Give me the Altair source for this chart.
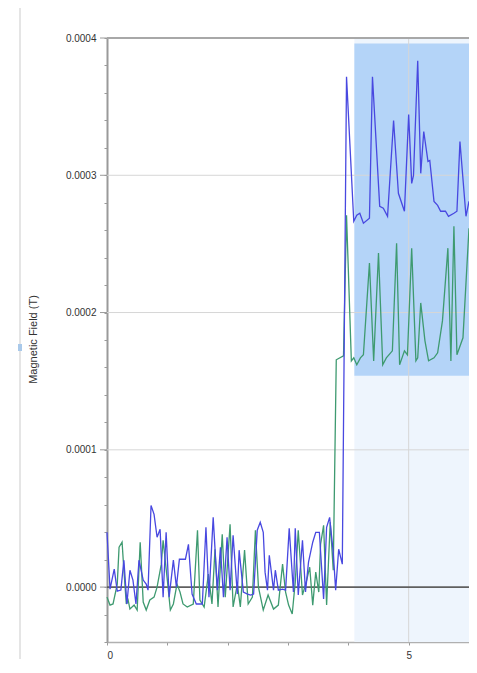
import altair as alt
import pandas as pd

# ---- data ----
blue_t = [0.00, 0.05, 0.12, 0.17, 0.23, 0.28, 0.33, 0.38, 0.43, 0.48, 0.53, 0.60, 0.65, 0.68,
          0.73, 0.78, 0.83, 0.88, 0.93, 0.98, 1.03, 1.10, 1.15, 1.20, 1.30, 1.35, 1.41, 1.48,
          1.58, 1.64, 1.69, 1.76, 1.83, 1.88, 1.93, 1.99, 2.04, 2.09, 2.16, 2.19, 2.26, 2.33,
          2.38, 2.43, 2.49, 2.54, 2.59, 2.62, 2.66, 2.69, 2.76, 2.79, 2.84, 2.91, 2.96, 3.02,
          3.09, 3.12, 3.17, 3.24, 3.29, 3.34, 3.41, 3.46, 3.52, 3.59, 3.64, 3.69, 3.75, 3.79,
          3.84, 3.90, 3.97, 4.09, 4.14, 4.19, 4.25, 4.35, 4.40, 4.52, 4.58, 4.65, 4.75, 4.83,
          4.93, 5.00, 5.05, 5.08, 5.15, 5.20, 5.25, 5.32, 5.35, 5.42, 5.48, 5.53, 5.61, 5.66,
          5.75, 5.80, 5.85, 5.95, 6.00]
blue_b = [0.0000399, -0.0000015, 0.0000131, -0.0000029, -0.0000022, 0.0000196, -0.0000123,
          0.0000123, 0.0000051, -0.0000123, 0.0000196, 0.0000051, 0.0000022, -0.0000022,
          0.0000595, 0.0000530, 0.0000363, 0.0000421, -0.0000073, 0.0000399, -0.0000073,
          0.0000196, 0.0000000, 0.0000203, 0.0000203, 0.0000312, -0.0000051, -0.0000123,
          -0.0000123, 0.0000436, -0.0000073, 0.0000508, -0.0000022, 0.0000290, -0.0000073,
          0.0000363, -0.0000022, 0.0000378, -0.0000051, 0.0000269, -0.0000036, -0.0000051,
          -0.0000058, -0.0000051, 0.0000414, 0.0000472, 0.0000399, 0.0000109, -0.0000022,
          0.0000232, -0.0000022, 0.0000123, -0.0000022, -0.0000015, -0.0000022, 0.0000428,
          -0.0000036, 0.0000428, -0.0000058, 0.0000341, -0.0000036, 0.0000182, 0.0000327,
          0.0000399, 0.0000399, -0.0000087, 0.0000436, 0.0000508, 0.0000254, -0.0000022,
          0.0000276, 0.0000167, 0.0003718, 0.0002665, 0.0002709, 0.0002723, 0.0002651,
          0.0002687, 0.0003718, 0.0002774, 0.0002760, 0.0002701, 0.0003399, 0.0002869,
          0.0002738, 0.0003442, 0.0002941, 0.0002999, 0.0003834, 0.0003014, 0.0003319,
          0.0003101, 0.0003108, 0.0002810, 0.0002781, 0.0002738, 0.0002738, 0.0002701,
          0.0002723, 0.0002738, 0.0003246, 0.0002701, 0.0002810]

green_t = [0.00, 0.05, 0.10, 0.17, 0.20, 0.25, 0.28, 0.32, 0.35, 0.38, 0.45, 0.50, 0.55, 0.60,
           0.65, 0.71, 0.78, 0.83, 0.90, 0.93, 1.00, 1.05, 1.10, 1.16, 1.21, 1.26, 1.33, 1.43,
           1.50, 1.54, 1.61, 1.68, 1.74, 1.79, 1.84, 1.91, 1.96, 2.04, 2.09, 2.16, 2.21, 2.28,
           2.34, 2.41, 2.46, 2.51, 2.59, 2.67, 2.76, 2.84, 2.91, 2.96, 3.01, 3.07, 3.12, 3.17,
           3.24, 3.31, 3.36, 3.41, 3.46, 3.51, 3.54, 3.59, 3.64, 3.70, 3.75, 3.80, 3.92, 3.97,
           4.05, 4.09, 4.14, 4.20, 4.25, 4.35, 4.42, 4.50, 4.57, 4.63, 4.73, 4.80, 4.85, 4.93,
           4.98, 5.05, 5.12, 5.15, 5.20, 5.27, 5.33, 5.42, 5.48, 5.56, 5.65, 5.70, 5.75, 5.80,
           5.90, 6.00]
green_b = [-0.0000073, -0.0000131, -0.0000123, 0.0000022, 0.0000290, 0.0000327, 0.0000123,
           -0.0000123, -0.0000094, -0.0000160, -0.0000131, -0.0000167, 0.0000327, -0.0000109,
           -0.0000167, -0.0000094, -0.0000073, 0.0000000, 0.0000167, 0.0000341, 0.0000051,
           -0.0000167, -0.0000123, 0.0000022, -0.0000036, -0.0000123, -0.0000145, -0.0000123,
           0.0000414, -0.0000094, -0.0000145, 0.0000094, -0.0000123, 0.0000276, -0.0000145,
           0.0000385, -0.0000073, 0.0000458, -0.0000145, 0.0000022, -0.0000145, 0.0000269,
           -0.0000123, -0.0000073, 0.0000414, 0.0000000, -0.0000167, -0.0000058, -0.0000160,
           -0.0000131, 0.0000167, -0.0000036, -0.0000131, -0.0000196, 0.0000036, 0.0000414,
           -0.0000058, 0.0000051, 0.0000145, -0.0000131, 0.0000109, -0.0000036, 0.0000312,
           0.0000450, -0.0000131, 0.0000472, 0.0000123, 0.0001656, 0.0001685, 0.0002709,
           0.0001648, 0.0001670, 0.0001619, 0.0001670, 0.0001692, 0.0002360, 0.0001648,
           0.0002433, 0.0001619, 0.0001670, 0.0001721, 0.0002505, 0.0001619, 0.0001721,
           0.0001692, 0.0002469, 0.0001648, 0.0001670, 0.0002070, 0.0001794, 0.0001648,
           0.0001670, 0.0001707, 0.0001939, 0.0002469, 0.0001648, 0.0002629, 0.0001692,
           0.0001816, 0.0002614]

y_labels = [0.0, 0.0001, 0.0002, 0.0003, 0.0004]
y_ticks = [-0.00004, -0.00002, 0.0, 0.00002, 0.00004, 0.00006, 0.00008, 0.0001, 0.00012,
           0.00014, 0.00016, 0.00018, 0.0002, 0.00022, 0.00024, 0.00026, 0.00028, 0.0003,
           0.00032, 0.00034, 0.00036, 0.00038, 0.0004]
x_ticks = [0, 1, 2, 3, 4, 5, 6]
x_grid = [5]

sel_t = [4.10, 6.00]          # selected time range
sel_b = [0.000154, 0.000396]  # selected field range
y_dom = [-0.00004, 0.0004]
x_dom = [0, 6]

FONT = "Liberation Sans"

blue_df = pd.DataFrame({"t": blue_t, "b": blue_b})
green_df = pd.DataFrame({"t": green_t, "b": green_b})

xs = alt.Scale(domain=x_dom, nice=False, zero=False)
ys = alt.Scale(domain=y_dom, nice=False, zero=False)

W, H = 362, 604

X_AXIS = alt.Axis(
    values=x_ticks, title=None, grid=False,
    labelExpr="datum.value == 0 || datum.value == 5 ? datum.label : ''",
    tickSize=3, tickColor="#9a9a9a", domainColor="#b0b0b0", domainWidth=1.5,
    labelFont=FONT, labelFontSize=10, labelColor="#333333", labelPadding=5)
Y_AXIS = alt.Axis(
    values=y_ticks, grid=False, title="Magnetic Field (T)",
    labelExpr="(datum.value >= 0 && abs(datum.value*10000 - round(datum.value*10000)) < 0.01) ? format(datum.value, '.4f') : ''",
    tickSize=3, tickColor="#9a9a9a", domainColor="#9a9a9a", domainWidth=2,
    labelFont=FONT, labelFontSize=10, labelColor="#333333", labelPadding=8,
    titleFont=FONT, titleFontSize=11, titleFontWeight="normal", titleColor="#333333",
    titleX=-74, titleY=301, titleAngle=-90, titleAlign="center", titleBaseline="middle")


def X(field="t"):
    return alt.X(f"{field}:Q", scale=xs, axis=X_AXIS, title=None)


def Y(field="b"):
    return alt.Y(f"{field}:Q", scale=ys, axis=Y_AXIS, title="Magnetic Field (T)")


# light selection band (full height)
band_df = pd.DataFrame({"t": [sel_t[0]], "t2": [sel_t[1]], "b": [y_dom[0]], "b2": [y_dom[1]]})
band = alt.Chart(band_df).mark_rect(color="#eef5fd").encode(
    x=X(), x2="t2:Q", y=Y(), y2="b2:Q")

box_df = pd.DataFrame({"t": [sel_t[0]], "t2": [sel_t[1]], "b": [sel_b[0]], "b2": [sel_b[1]]})
box = alt.Chart(box_df).mark_rect(color="#b4d4f8").encode(
    x=X(), x2="t2:Q", y=Y(), y2="b2:Q")

grid_df = pd.DataFrame({"b": [0.0001, 0.0002, 0.0003]})
hgrid = alt.Chart(grid_df).mark_rule(color="#d6d6d6", strokeWidth=1).encode(
    y=Y(), x=alt.value(0), x2=alt.value(W))
major_ticks = alt.Chart(pd.DataFrame({"b": y_labels})).mark_rule(color="#9a9a9a", strokeWidth=1).encode(
    y=Y(), x=alt.value(-7), x2=alt.value(0))
vgrid = alt.Chart(pd.DataFrame({"t": x_grid})).mark_rule(color="#d6d6d6", strokeWidth=1).encode(
    x=X(), y=alt.value(0), y2=alt.value(H))
zero = alt.Chart(pd.DataFrame({"b": [0.0]})).mark_rule(color="#5f5f5f", strokeWidth=1.6).encode(
    y=Y(), x=alt.value(0), x2=alt.value(W))
top = alt.Chart(pd.DataFrame({"b": [0.0004]})).mark_rule(color="#a8a8a8", strokeWidth=2).encode(
    y=Y(), x=alt.value(0), x2=alt.value(W))

green_line = alt.Chart(green_df).mark_line(color="#3e9a70", strokeWidth=1.3).encode(x=X(), y=Y())
blue_line = alt.Chart(blue_df).mark_line(color="#4848e0", strokeWidth=1.3).encode(x=X(), y=Y())

# panel frame (decoration of the screenshot)
one = pd.DataFrame({"k": [0]})
frame_l = alt.Chart(one).mark_rule(color="#dcdcdc", strokeWidth=1.5).encode(
    x=alt.value(-87), y=alt.value(-30), y2=alt.value(H + 17))
icon = alt.Chart(one).mark_rect(color="#a9c9ea").encode(
    x=alt.value(-89), x2=alt.value(-85), y=alt.value(306), y2=alt.value(313))

chart = alt.layer(
    band, box, hgrid, vgrid, major_ticks, zero, top, green_line, blue_line,
    frame_l, icon
).properties(
    width=W, height=H,
    autosize=alt.AutoSizeParams(type="none"),
    padding={"left": 99, "top": 30, "right": 0, "bottom": 17},
).configure_view(stroke=None).configure(background="white")

chart.save("out.html", embed_options={"renderer": "svg", "actions": False})
